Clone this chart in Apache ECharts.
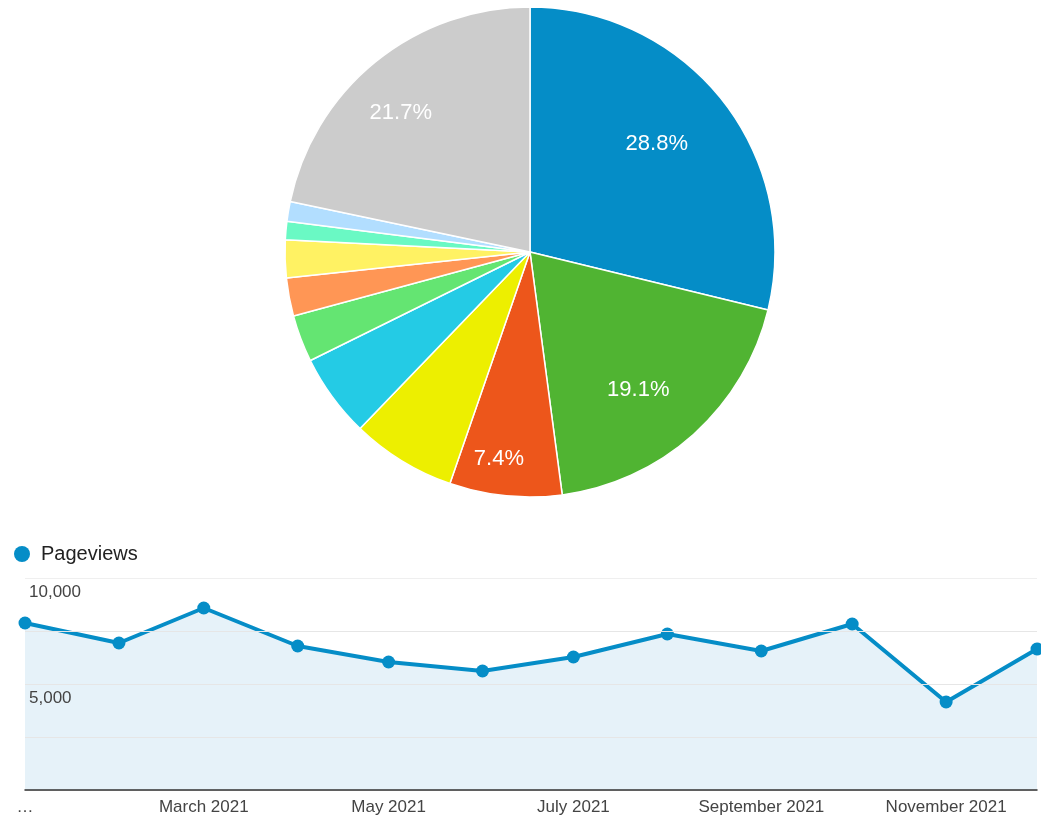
<!DOCTYPE html>
<html>
<head>
<meta charset="utf-8">
<script src="https://cdn.jsdelivr.net/npm/echarts@6/dist/echarts.min.js"></script>
<style>
  html, body { margin: 0; padding: 0; background: #fff; }
  #chart { width: 1041px; height: 821px; }
</style>
</head>
<body>
<div id="chart"></div>
<script>
// ---- Pie data (share %) ----
const pieNames = ['Slice 1', 'Slice 2', 'Slice 3', 'Slice 4', 'Slice 5', 'Slice 6',
                  'Slice 7', 'Slice 8', 'Slice 9', 'Slice 10', 'Slice 11'];
const pieValues = [28.8, 19.1, 7.4, 6.9, 5.5, 3.1, 2.5, 2.5, 1.2, 1.3, 21.7];
const pieColors = ['#058dc7', '#50b432', '#ed561b', '#edef00', '#24cbe5', '#64e572',
                   '#ff9655', '#fff263', '#6af9c4', '#b2deff', '#cccccc'];
// labelled slices, grouped by how far from the centre their label sits
const labelGroupNear = ['Slice 1', 'Slice 2'];
const labelGroupMid = ['Slice 11'];
const labelGroupFar = ['Slice 3'];

// ---- Line data (one point per month, placed by real date) ----
const monthDates = ['2021-01-01', '2021-02-01', '2021-03-01', '2021-04-01', '2021-05-01', '2021-06-01',
                    '2021-07-01', '2021-08-01', '2021-09-01', '2021-10-01', '2021-11-01', '2021-12-01'];
const pageviews = [7877, 6934, 8585, 6792, 6038, 5613, 6274, 7358, 6557, 7830, 4151, 6651];
const xTickDates = ['2021-01-01', '2021-03-01', '2021-05-01', '2021-07-01', '2021-09-01', '2021-11-01'];
const xTickLabels = ['…', 'March 2021', 'May 2021', 'July 2021', 'September 2021', 'November 2021'];
const yTickValues = [5000, 10000];
const yTickLabels = ['5,000', '10,000'];

const FONT = 'Liberation Sans, Arial, Helvetica, sans-serif';

// day number counted from the first date (UTC to avoid DST effects)
const dayNum = s => {
  const p = s.split('-').map(Number);
  const b = monthDates[0].split('-').map(Number);
  return Math.round((Date.UTC(p[0], p[1] - 1, p[2]) - Date.UTC(b[0], b[1] - 1, b[2])) / 86400000);
};
const xTickDays = xTickDates.map(dayNum);
const lineData = monthDates.map((d, i) => [dayNum(d), pageviews[i]]);
const pieData = pieValues.map((v, i) => ({ name: pieNames[i], value: v, itemStyle: { color: pieColors[i] } }));

// per-label nudges (Google-style placement is not exactly on the mid angle)
const labelNudge = { 'Slice 1': [-10, -1], 'Slice 2': [-8, 9], 'Slice 3': [-10, -2], 'Slice 11': [-7, 12] };

function labelOverlay(group, r0, r1) {
  return {
    type: 'pie',
    center: [530, 252],
    radius: [r0, r1],
    startAngle: 90,
    clockwise: true,
    silent: true,
    animation: false,
    avoidLabelOverlap: false,
    itemStyle: { color: 'rgba(0,0,0,0)', borderWidth: 0 },
    emphasis: { disabled: true },
    labelLine: { show: false },
    label: {
      show: true,
      position: 'inside',
      color: '#ffffff',
      fontFamily: FONT,
      fontSize: 22,
      formatter: p => group.indexOf(p.name) >= 0 ? p.value.toFixed(1) + '%' : ''
    },
    data: pieValues.map((v, i) => {
      const item = { name: pieNames[i], value: v };
      if (group.indexOf(pieNames[i]) >= 0 && labelNudge[pieNames[i]]) {
        item.label = { offset: labelNudge[pieNames[i]] };
      }
      return item;
    })
  };
}

const chart = echarts.init(document.getElementById('chart'), null, { renderer: 'canvas' });
chart.setOption({
  animation: false,
  backgroundColor: '#ffffff',
  legend: {
    data: ['Pageviews'],
    left: 9,
    top: 539,
    icon: 'circle',
    itemWidth: 16,
    itemHeight: 16,
    textStyle: { fontFamily: FONT, fontSize: 20, color: '#222222', padding: [0, 0, 0, 6] }
  },
  grid: { left: 25, right: 4, top: 578, bottom: 31, containLabel: false },
  xAxis: {
    type: 'value',
    min: 0,
    max: dayNum(monthDates[monthDates.length - 1]),
    z: 10,
    axisLine: { show: true, onZero: false, lineStyle: { color: '#333333', width: 1.5 } },
    axisTick: { show: false },
    splitLine: { show: false },
    axisLabel: {
      customValues: xTickDays,
      showMinLabel: true,
      hideOverlap: false,
      margin: 9,
      fontFamily: FONT,
      fontSize: 17,
      color: '#444444',
      formatter: v => {
        const k = xTickDays.indexOf(v);
        return k >= 0 ? xTickLabels[k] : '';
      }
    }
  },
  yAxis: {
    type: 'value',
    min: 0,
    max: 10000,
    interval: 2500,
    z: 10,
    axisLine: { show: false },
    axisTick: { show: false },
    splitLine: { show: true, lineStyle: { color: ['#e6e6e6', '#e6e6e6', '#e6e6e6', '#e6e6e6', '#efefef'], width: 1 } },
    axisLabel: {
      inside: true,
      margin: 4,
      fontFamily: FONT,
      fontSize: 17,
      color: '#444444',
      align: 'left',
      verticalAlign: 'top',
      padding: [6, 0, 0, 0],
      formatter: v => {
        const k = yTickValues.indexOf(v);
        return k >= 0 ? yTickLabels[k] : '';
      }
    }
  },
  series: [
    {
      type: 'pie',
      name: 'Share',
      center: [530, 252],
      radius: [0, 245],
      startAngle: 90,
      clockwise: true,
      avoidLabelOverlap: false,
      itemStyle: { borderColor: '#ffffff', borderWidth: 1.5 },
      label: { show: false },
      labelLine: { show: false },
      emphasis: { disabled: true },
      data: pieData
    },
    labelOverlay(labelGroupNear, 100, 242),
    labelOverlay(labelGroupMid, 100, 282),
    labelOverlay(labelGroupFar, 100, 314),
    {
      type: 'line',
      name: 'Pageviews',
      data: lineData,
      symbol: 'circle',
      symbolSize: 13,
      showAllSymbol: true,
      itemStyle: { color: '#058dc7' },
      lineStyle: { color: '#058dc7', width: 4 },
      areaStyle: { color: '#e6f2f9', opacity: 1 },
      emphasis: { disabled: true },
      z: 3
    }
  ]
});
</script>
</body>
</html>
